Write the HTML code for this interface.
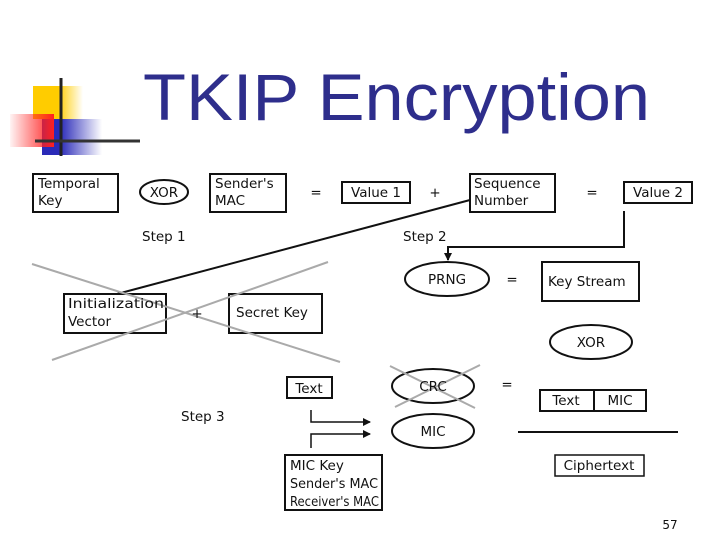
<!DOCTYPE html>
<html><head><meta charset="utf-8"><style>
html,body{margin:0;padding:0;background:#fff;}
svg{display:block;}
text{font-family:"DejaVu Sans","Liberation Sans",sans-serif;fill:#111;}
</style></head><body>
<svg width="720" height="540" viewBox="0 0 720 540" xmlns="http://www.w3.org/2000/svg">
<defs>
<linearGradient id="gy" x1="0" x2="1"><stop offset="0.5" stop-color="#ffcc00"/><stop offset="1" stop-color="#ffcc00" stop-opacity="0"/></linearGradient>
<linearGradient id="gr" x1="1" x2="0"><stop offset="0" stop-color="#ff2020"/><stop offset="1" stop-color="#ff2020" stop-opacity="0.05"/></linearGradient>
<linearGradient id="gb" x1="0" x2="1"><stop offset="0.3" stop-color="#2a2ab8"/><stop offset="1" stop-color="#2a2ab8" stop-opacity="0"/></linearGradient>
<marker id="ah" markerWidth="8" markerHeight="8" refX="7" refY="4" orient="auto" markerUnits="userSpaceOnUse"><path d="M0,0 L8,4 L0,8 z" fill="#111"/></marker>
</defs>
<rect x="33" y="86" width="50" height="33" fill="url(#gy)"/>
<rect x="42" y="119" width="60" height="36" fill="url(#gb)"/>
<rect x="10" y="114" width="44" height="33" fill="url(#gr)"/>
<line x1="61" y1="78" x2="61" y2="156" stroke="#222" stroke-width="3"/>
<line x1="35" y1="141" x2="140" y2="141" stroke="#333" stroke-width="3"/>
<text x="143" y="120" font-size="66" textLength="507" lengthAdjust="spacingAndGlyphs" style="fill:#2e2e8c;font-family:'Liberation Sans',sans-serif">TKIP Encryption</text>

<g stroke="#111" stroke-width="2" fill="none">
<rect x="33" y="174" width="85" height="38"/>
<rect x="210" y="174" width="76" height="38"/>
<rect x="342" y="182" width="68" height="21"/>
<rect x="470" y="174" width="85" height="38"/>
<rect x="624" y="182" width="68" height="21"/>
<rect x="64" y="294" width="102" height="39"/>
<rect x="229" y="294" width="93" height="39"/>
<rect x="542" y="262" width="97" height="39"/>
<rect x="287" y="377" width="45" height="21"/>
<rect x="540" y="390" width="106" height="21"/>
<line x1="594" y1="390" x2="594" y2="411"/>
<rect x="285" y="455" width="97" height="55"/>
<rect x="555" y="455" width="89" height="21" stroke-width="1.5"/>
<ellipse cx="164" cy="192" rx="24" ry="12"/>
<ellipse cx="447" cy="279" rx="42" ry="17"/>
<ellipse cx="591" cy="342" rx="41" ry="17"/>
<ellipse cx="433" cy="386" rx="41" ry="17"/>
<ellipse cx="433" cy="431" rx="41" ry="17"/>
<line x1="518" y1="432" x2="678" y2="432"/>
<polyline points="117,294 470,200"/>
<polyline points="624,211 624,247 448,247 448,260" marker-end="url(#ah)"/>
<polyline points="311,410 311,422 370,422" stroke-width="1.5" marker-end="url(#ah)"/>
<polyline points="311,448 311,434 370,434" stroke-width="1.5" marker-end="url(#ah)"/>
</g>
<g stroke="#aaa" stroke-width="2">
<line x1="32" y1="264" x2="340" y2="362"/>
<line x1="52" y1="360" x2="328" y2="262"/>
<line x1="390" y1="366" x2="475" y2="408"/>
<line x1="395" y1="407" x2="480" y2="365"/>
</g>
<g font-size="13.5">
<text x="38" y="188">Temporal</text><text x="38" y="205">Key</text>
<text x="164" y="197" text-anchor="middle">XOR</text>
<text x="215" y="188">Sender's</text><text x="215" y="205">MAC</text>
<text x="316" y="197" text-anchor="middle">=</text>
<text x="376" y="197" text-anchor="middle">Value 1</text>
<text x="435" y="197" text-anchor="middle">+</text>
<text x="474" y="188">Sequence</text><text x="474" y="205">Number</text>
<text x="592" y="197" text-anchor="middle">=</text>
<text x="658" y="197" text-anchor="middle">Value 2</text>
<text x="142" y="241">Step 1</text>
<text x="403" y="241">Step 2</text>
<text x="447" y="284" text-anchor="middle">PRNG</text>
<text x="512" y="284" text-anchor="middle">=</text>
<text x="548" y="286">Key Stream</text>
<text x="68" y="308" textLength="96" lengthAdjust="spacingAndGlyphs">Initialization</text><text x="68" y="326">Vector</text>
<text x="197" y="318" text-anchor="middle">+</text>
<text x="236" y="317">Secret Key</text>
<text x="591" y="347" text-anchor="middle">XOR</text>
<text x="309" y="393" text-anchor="middle">Text</text>
<text x="433" y="391" text-anchor="middle">CRC</text>
<text x="507" y="389" text-anchor="middle">=</text>
<text x="566" y="405" text-anchor="middle">Text</text>
<text x="620" y="405" text-anchor="middle">MIC</text>
<text x="181" y="421">Step 3</text>
<text x="433" y="436" text-anchor="middle">MIC</text>
<text x="290" y="470">MIC Key</text>
<text x="290" y="488" textLength="88" lengthAdjust="spacingAndGlyphs">Sender's MAC</text>
<text x="290" y="506" textLength="89" lengthAdjust="spacingAndGlyphs">Receiver's MAC</text>
<text x="599" y="470" text-anchor="middle">Ciphertext</text>
<text x="670" y="529" text-anchor="middle" font-size="12">57</text>
</g>
</svg>
</body></html>
